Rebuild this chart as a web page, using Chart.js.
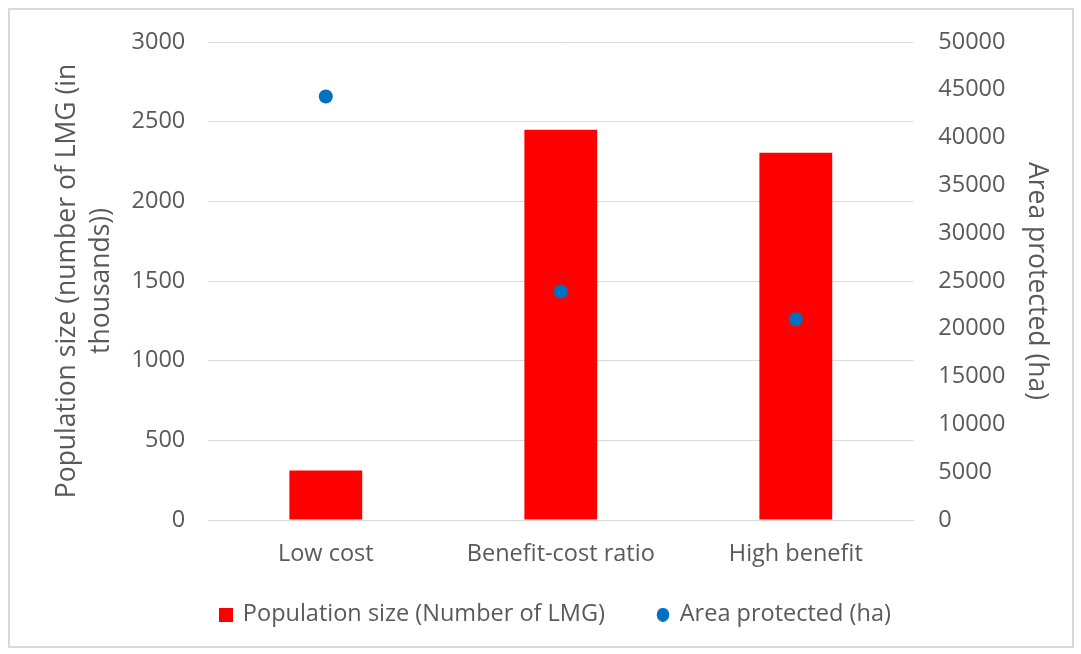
<!DOCTYPE html>
<html>
<head>
<meta charset="utf-8">
<title>Population size and area protected by prioritisation approach</title>
<script src="https://cdn.jsdelivr.net/npm/chart.js@4/dist/chart.umd.min.js"></script>
<style>
  html, body { margin: 0; padding: 0; background: #ffffff; }
  #wrap { position: relative; width: 1081px; height: 654px; }
  #frame {
    position: absolute; left: 8px; top: 8px; width: 1062px; height: 636px;
    border: 2px solid #d9d9d9; box-sizing: content-box; pointer-events: none;
  }
  canvas { position: absolute; left: 0; top: 0; }
</style>
</head>
<body>
<div id="wrap">
  <canvas id="chart" width="1081" height="654"></canvas>
  <div id="frame"></div>
</div>
<script>
// Prioritisation approaches on the category axis
const categories = ['Low cost', 'Benefit-cost ratio', 'High benefit'];

// Population size (thousands of LMG) — left axis, bars
const populationSize = [310, 2450, 2305];

// Area protected (ha) — right axis, points
const areaProtected = [44300, 23900, 21000];

// Axis ranges and steps
const leftAxisMax = 3000, leftAxisStep = 500;
const rightAxisMax = 50000, rightAxisStep = 5000;

const textColor = '#595959';
const gridColor = '#d9d9d9';
const fontFamily = '"Open Sans", "Noto Sans", sans-serif';
const tickSize = 23.5;
const titleSize = 26.5;

// Small legend swatches: a red square and a blue dot of equal size
function swatch(kind, color) {
  const c = document.createElement('canvas');
  c.width = 14; c.height = 14;
  const g = c.getContext('2d');
  g.fillStyle = color;
  if (kind === 'rect') {
    g.fillRect(0, 0, 14, 14);
  } else {
    g.beginPath();
    g.ellipse(7, 7, 6.3, 7, 0, 0, Math.PI * 2);
    g.fill();
  }
  return c;
}
const redSquare = swatch('rect', '#ff0000');
const blueDot = swatch('circle', '#0070c0');

// Plain integer tick labels (no thousands separators)
const plainTick = v => String(v);

const ctx = document.getElementById('chart').getContext('2d');
new Chart(ctx, {
  data: {
    labels: categories,
    datasets: [
      {
        type: 'line',
        label: 'Area protected (ha)',
        data: areaProtected,
        yAxisID: 'y1',
        showLine: false,
        pointRadius: 7,
        pointHoverRadius: 7,
        pointBackgroundColor: '#0070c0',
        pointBorderWidth: 0,
        borderColor: '#0070c0',
        backgroundColor: '#0070c0',
        order: 0
      },
      {
        type: 'bar',
        label: 'Population size (Number of LMG)',
        data: populationSize,
        yAxisID: 'y',
        backgroundColor: '#ff0000',
        borderWidth: 0,
        barPercentage: 0.31,
        categoryPercentage: 1.0,
        order: 1
      }
    ]
  },
  options: {
    responsive: false,
    animation: false,
    devicePixelRatio: 1,
    layout: { padding: { left: 31, right: 0, top: 42, bottom: 17.5 } },
    plugins: {
      tooltip: { enabled: false },
      legend: {
        position: 'bottom',
        align: 'center',
        labels: {
          usePointStyle: true,
          boxWidth: 10,
          boxHeight: 10,
          padding: 6,
          color: textColor,
          font: { family: fontFamily, size: tickSize },
          generateLabels(chart) {
            const items = Chart.defaults.plugins.legend.labels.generateLabels(chart);
            items.forEach(it => {
              if (it.datasetIndex === 1) {
                it.pointStyle = redSquare;
                // wider spacing before the next entry
                it.text = it.text + '\u2002\u2002\u2002\u2002';
              } else {
                it.pointStyle = blueDot;
              }
            });
            return items.sort((a, b) => b.datasetIndex - a.datasetIndex);
          }
        }
      }
    },
    scales: {
      x: {
        grid: { display: false, drawTicks: false },
        border: { display: true, color: gridColor, width: 1 },
        ticks: {
          color: textColor,
          padding: 20,
          maxRotation: 0,
          font: { family: fontFamily, size: tickSize }
        },
        afterFit(scale) { scale.height = 77; }
      },
      y: {
        position: 'left',
        min: 0,
        max: leftAxisMax,
        grid: { color: gridColor, lineWidth: 1, drawTicks: false },
        border: { display: false },
        ticks: {
          stepSize: leftAxisStep,
          color: textColor,
          padding: 23,
          callback: plainTick,
          font: { family: fontFamily, size: tickSize }
        },
        title: {
          display: true,
          text: ['Population size (number of LMG (in', 'thousands))'],
          color: textColor,
          padding: { top: 19, bottom: 0 },
          font: { family: fontFamily, size: titleSize, lineHeight: 1.3 }
        },
        afterFit(scale) { scale.width = 177.3; }
      },
      y1: {
        position: 'right',
        min: 0,
        max: rightAxisMax,
        grid: { display: false, drawTicks: false },
        border: { display: false },
        ticks: {
          stepSize: rightAxisStep,
          color: textColor,
          padding: 25,
          callback: plainTick,
          font: { family: fontFamily, size: tickSize }
        },
        title: {
          display: true,
          text: 'Area protected (ha)',
          color: textColor,
          padding: { top: 27, bottom: 0 },
          font: { family: fontFamily, size: titleSize, lineHeight: 1.3 }
        },
        afterFit(scale) { scale.width = 167.7; }
      }
    }
  }
});
</script>
</body>
</html>
